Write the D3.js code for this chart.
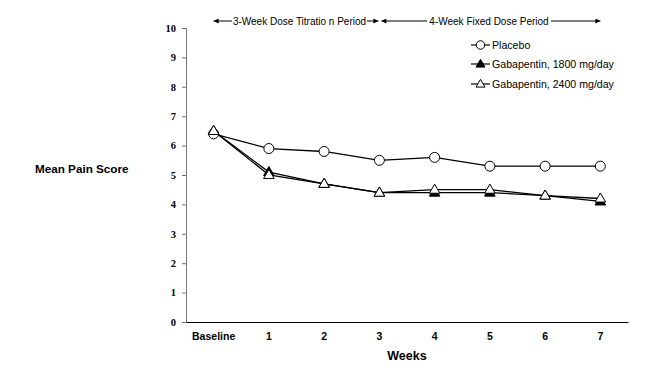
<!DOCTYPE html>
<html>
<head>
<meta charset="utf-8">
<script src="https://cdn.jsdelivr.net/npm/d3@7"></script>
<style>
  body { margin: 0; background: #fff; }
  text { font-family: "Liberation Sans", Arial, sans-serif; }
</style>
</head>
<body>
<div id="chart"></div>
<script>
// Data
var weeks = ['Baseline', '1', '2', '3', '4', '5', '6', '7'];
var placebo = [6.4, 5.9, 5.8, 5.5, 5.6, 5.3, 5.3, 5.3];
var gaba1800 = [6.5, 5.1, 4.7, 4.4, 4.4, 4.4, 4.3, 4.1];
var gaba2400 = [6.5, 5.0, 4.7, 4.4, 4.5, 4.5, 4.3, 4.2];
var yTicks = [0, 1, 2, 3, 4, 5, 6, 7, 8, 9, 10];
var seriesNames = ['Placebo', 'Gabapentin, 1800 mg/day', 'Gabapentin, 2400 mg/day'];

var width = 668, height = 382;
var svg = d3.select('#chart').append('svg')
    .attr('width', width)
    .attr('height', height);

// Scales
var x = d3.scaleBand().domain(weeks).range([186, 628]);
var y = d3.scaleLinear().domain([0, 10]).range([322, 28]);
function cx(i) { return x(weeks[i]) + x.bandwidth() / 2; }

// Y axis
var yAxis = svg.append('g')
    .attr('transform', 'translate(186,0)')
    .call(d3.axisLeft(y).tickValues(yTicks).tickSize(4).tickPadding(6));
yAxis.select('.domain').attr('stroke', '#777');
yAxis.selectAll('.tick line').attr('stroke', '#777');
yAxis.selectAll('.tick text')
    .style('font-family', '"Liberation Serif", "Times New Roman", serif')
    .style('font-weight', 'bold')
    .style('font-size', '10.5px')
    .attr('fill', '#000');

// X axis
var xAxis = svg.append('g')
    .attr('transform', 'translate(0,322)')
    .call(d3.axisBottom(x).tickSize(0).tickPadding(11));
xAxis.select('.domain').attr('stroke', '#000').attr('stroke-width', 1.2);
xAxis.selectAll('.tick text')
    .style('font-weight', 'bold')
    .style('font-size', '10.5px')
    .attr('fill', '#000');

// Axis titles
svg.append('text').text('Weeks')
    .attr('x', 407).attr('y', 360)
    .attr('text-anchor', 'middle')
    .style('font-weight', 'bold').style('font-size', '12.5px');
svg.append('text').text('Mean Pain Score')
    .attr('x', 35).attr('y', 173)
    .style('font-weight', 'bold').style('font-size', '11.7px');

// Period arrows at the top
svg.append('defs').append('marker')
    .attr('id', 'arrow')
    .attr('viewBox', '0 0 10 10')
    .attr('refX', 10).attr('refY', 5)
    .attr('markerWidth', 6).attr('markerHeight', 5)
    .attr('orient', 'auto-start-reverse')
    .append('path').attr('d', 'M0,0 L10,5 L0,10 Z').attr('fill', '#000');

var periods = [
    { label: '3-Week Dose Titratio n Period', from: 0, to: 3, t0: 232, t1: 367 },
    { label: '4-Week Fixed Dose Period', from: 3, to: 7, t0: 427, t1: 551 }
];
var topY = 21;
periods.forEach(function (p, k) {
    var a = cx(p.from) + (k === 0 ? 0 : 2), b = cx(p.to) - (k === 0 ? 1 : 0);
    svg.append('line').attr('x1', p.t0).attr('y1', topY).attr('x2', a).attr('y2', topY)
        .attr('stroke', '#000').attr('marker-end', 'url(#arrow)');
    svg.append('line').attr('x1', p.t1).attr('y1', topY).attr('x2', b).attr('y2', topY)
        .attr('stroke', '#000').attr('marker-end', 'url(#arrow)');
    svg.append('text').text(p.label)
        .attr('x', (p.t0 + p.t1) / 2).attr('y', topY + 3.5)
        .attr('text-anchor', 'middle')
        .style('font-size', '10px');
});

// Series
var series = [
    { name: seriesNames[0], values: placebo, shape: 'circle', fill: '#fff' },
    { name: seriesNames[1], values: gaba1800, shape: 'triangle', fill: '#000' },
    { name: seriesNames[2], values: gaba2400, shape: 'triangle', fill: '#fff' }
];
var line = d3.line().x(function (d, i) { return cx(i); }).y(function (d) { return y(d); });

function drawMarker(g, s, px, py, scale) {
    if (s.shape === 'circle') {
        g.append('circle').attr('cx', px).attr('cy', py).attr('r', 5 * scale)
            .attr('fill', s.fill).attr('stroke', '#000').attr('stroke-width', 1);
    } else {
        g.append('path')
            .attr('d', d3.symbol().type(d3.symbolTriangle).size(48 * scale * scale)())
            .attr('transform', 'translate(' + px + ',' + (py + 0.5) + ')')
            .attr('fill', s.fill).attr('stroke', '#000').attr('stroke-width', 1);
    }
}

series.forEach(function (s) {
    svg.append('path').datum(s.values)
        .attr('fill', 'none').attr('stroke', '#000').attr('stroke-width', 1.3)
        .attr('d', line);
});
series.forEach(function (s) {
    var g = svg.append('g');
    s.values.forEach(function (v, i) { drawMarker(g, s, cx(i), y(v), 1); });
});

// Legend
var legendY = [45, 64, 84];
series.forEach(function (s, i) {
    var g = svg.append('g');
    g.append('line').attr('x1', 471).attr('x2', 490)
        .attr('y1', legendY[i]).attr('y2', legendY[i])
        .attr('stroke', '#000').attr('stroke-width', 1.2);
    drawMarker(g, s, 480.5, legendY[i], 0.85);
    g.append('text').text(s.name)
        .attr('x', 492).attr('y', legendY[i] + 4)
        .style('font-size', '10.6px');
});
</script>
</body>
</html>
